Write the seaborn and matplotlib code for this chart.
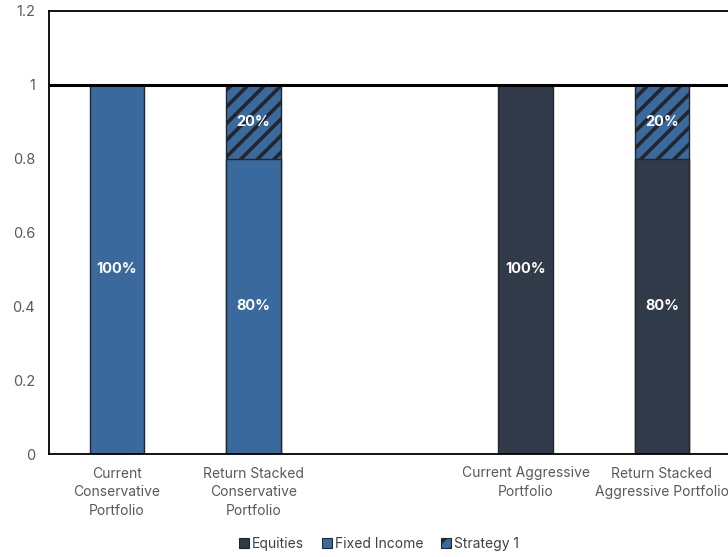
import matplotlib
matplotlib.use("Agg")
import matplotlib.pyplot as plt
import seaborn as sns
import pandas as pd
from matplotlib.patches import Patch

categories = ["Current\nConservative\nPortfolio", "Return Stacked\nConservative\nPortfolio", " ",
              "Current Aggressive\nPortfolio", "Return Stacked\nAggressive Portfolio"]
bar_categories = [categories[0], categories[1], categories[3], categories[4]]
base_asset = ["Fixed Income", "Fixed Income", "Equities", "Equities"]
base_values = [1.0, 0.8, 1.0, 0.8]
strategy_values = [0.0, 0.2, 0.0, 0.2]
yticks = [0, 0.2, 0.4, 0.6, 0.8, 1, 1.2]
ytick_labels = ["0", "0.2", "0.4", "0.6", "0.8", "1", "1.2"]

BLUE = "#3A6A9D"
DARK = "#313A48"
EDGE = "#22262d"
GREY = "#595959"

df = pd.DataFrame({
    "portfolio": bar_categories,
    "asset": base_asset,
    "base": base_values,
    "strategy": strategy_values,
})
df["total"] = df["base"] + df["strategy"]

sns.set_theme(style="white")
plt.rcParams["font.family"] = ["Inter", "DejaVu Sans"]
plt.rcParams["hatch.linewidth"] = 2.6

fig = plt.figure(figsize=(7.28, 5.57), dpi=100)
ax = fig.add_axes([49 / 728, 103 / 557, 681 / 728, 443 / 557])

stacked = df[df["strategy"] > 0]
sns.barplot(data=stacked, x="portfolio", y="total", order=categories, color=BLUE,
            width=0.4, edgecolor=EDGE, linewidth=1.0, hatch="//", saturation=1,
            errorbar=None, ax=ax)
sns.barplot(data=df, x="portfolio", y="base", hue="asset", order=categories,
            palette={"Fixed Income": BLUE, "Equities": DARK}, width=0.4, dodge=False,
            edgecolor=EDGE, linewidth=1.0, saturation=1, errorbar=None, legend=False, ax=ax)

for _, r in df.iterrows():
    xi = categories.index(r["portfolio"])
    ax.text(xi, r["base"] / 2, f"{r['base'] * 100:.0f}%", ha="center", va="center",
            color="white", fontsize=10.5, fontweight="bold")
    if r["strategy"] > 0:
        ax.text(xi, r["base"] + r["strategy"] / 2, f"{r['strategy'] * 100:.0f}%",
                ha="center", va="center", color="white", fontsize=10.5, fontweight="bold")

ax.axhline(1, color="black", lw=2.2, zorder=5)
ax.set_ylim(0, 1.2)
ax.set_xlim(-0.5, 4.5)
ax.set_yticks(yticks)
ax.set_yticklabels(ytick_labels)
ax.set_xlabel("")
ax.set_ylabel("")
ax.tick_params(axis="both", length=0, colors=GREY)
ax.tick_params(axis="x", pad=9, labelsize=10)
ax.tick_params(axis="y", pad=10, labelsize=10.5)
for lab in ax.get_xticklabels():
    lab.set_linespacing(1.45)
    lab.set_color(GREY)
for s in ["left", "top", "bottom"]:
    ax.spines[s].set_color("black")
    ax.spines[s].set_linewidth(1.3)
ax.spines["right"].set_visible(False)
ax.grid(False)

handles = [Patch(facecolor=DARK, edgecolor=EDGE, linewidth=0.8, label="Equities"),
           Patch(facecolor=BLUE, edgecolor=EDGE, linewidth=0.8, label="Fixed Income"),
           Patch(facecolor=BLUE, edgecolor=EDGE, linewidth=0.8, hatch="//", label="Strategy 1")]
leg = fig.legend(handles=handles, loc="center", bbox_to_anchor=(379 / 728, 1 - 544 / 557),
                 ncol=3, frameon=False, fontsize=10, handlelength=0.7, handleheight=0.7,
                 handletextpad=0.2, columnspacing=1.3, labelcolor="#404040")

fig.savefig("out.png", dpi=100)
